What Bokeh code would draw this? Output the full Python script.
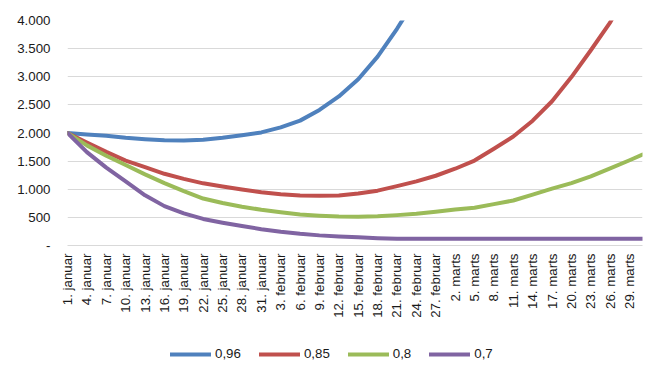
from bokeh.plotting import figure
from bokeh.models import Range1d, FixedTicker, Legend, LegendItem
from bokeh.layouts import column
from bokeh.embed import file_html
from bokeh.resources import INLINE
import math

# Category tick labels (every 3rd day, Jan 1 .. Mar 29)
tick_days = list(range(0, 90, 3))
tick_labels = [
    "1. januar", "4. januar", "7. januar", "10. januar", "13. januar", "16. januar",
    "19. januar", "22. januar", "25. januar", "28. januar", "31. januar",
    "3. februar", "6. februar", "9. februar", "12. februar", "15. februar",
    "18. februar", "21. februar", "24. februar", "27. februar",
    "2. marts", "5. marts", "8. marts", "11. marts", "14. marts", "17. marts",
    "20. marts", "23. marts", "26. marts", "29. marts",
]

# Day index (0 = 1. januar) of sampled points
days_full = list(range(0, 90, 3)) + [89]

# Series values
s096_days = list(range(0, 57, 3))
s096 = [2000, 1975, 1950, 1915, 1890, 1870, 1868, 1880, 1915, 1960,
        2010, 2100, 2220, 2410, 2650, 2956, 3357, 3853, 4400]

s085_days = list(range(0, 90, 3))
s085 = [2000, 1830, 1665, 1510, 1395, 1275, 1185, 1105, 1050, 995,
        945, 910, 889, 885, 889, 925, 975, 1055, 1140, 1240,
        1365, 1510, 1720, 1938, 2219, 2565, 2994, 3471, 3966, 4600]

s08_days = days_full
s08 = [2000, 1780, 1595, 1430, 1265, 1110, 967, 835, 755, 690,
       635, 590, 551, 530, 516, 512, 518, 540, 565, 600,
       640, 670, 735, 800, 905, 1010, 1110, 1230, 1370, 1515, 1615]

s07_days = days_full
s07 = [2000, 1660, 1385, 1140, 893, 700, 572, 472, 405, 345,
       290, 245, 208, 180, 162, 145, 130, 120, 120, 120,
       120, 120, 120, 120, 120, 120, 120, 120, 120, 120, 120]

series_names = ["0,96", "0,85", "0,8", "0,7"]
series_colors = ["#4F81BD", "#C0504D", "#9BBB59", "#8064A2"]

y_ticks = [0, 500, 1000, 1500, 2000, 2500, 3000, 3500, 4000]
y_labels = ["-", "500", "1.000", "1.500", "2.000", "2.500", "3.000", "3.500", "4.000"]

all_days = [s096_days, s085_days, s08_days, s07_days]
all_vals = [s096, s085, s08, s07]

FONT = "Liberation Sans"
FS = "13.3px"
TXT = "#1a1a1a"

p = figure(width=663, height=332, output_backend="svg", toolbar_location=None,
           x_range=Range1d(0, 89), y_range=Range1d(0, 4000),
           min_border_left=67, min_border_right=21, min_border_top=20,
           min_border_bottom=87)
p.outline_line_color = None
p.background_fill_color = "white"
p.border_fill_color = "white"

for xs, ys, c in zip(all_days, all_vals, series_colors):
    p.line(xs, ys, line_color=c, line_width=4, line_join="round", line_cap="round")

# axes
p.xaxis.ticker = FixedTicker(ticks=tick_days)
p.xaxis.major_label_overrides = {d: l for d, l in zip(tick_days, tick_labels)}
p.xaxis.major_label_orientation = math.pi / 2
p.xaxis.major_tick_out = 0
p.xaxis.major_tick_in = 0
p.xaxis.minor_tick_line_color = None
p.xaxis.minor_tick_out = 0
p.xaxis.axis_line_color = "#D9D9D9"
p.xaxis.axis_line_width = 1
p.xaxis.major_label_standoff = 8
p.xaxis.major_label_text_font = FONT
p.xaxis.major_label_text_font_size = FS
p.xaxis.major_label_text_color = TXT

p.yaxis.ticker = FixedTicker(ticks=y_ticks)
p.yaxis.major_label_overrides = {t: l for t, l in zip(y_ticks, y_labels)}
p.yaxis.axis_line_color = None
p.yaxis.major_tick_line_color = None
p.yaxis.major_tick_out = 0
p.yaxis.major_tick_in = 0
p.yaxis.minor_tick_line_color = None
p.yaxis.minor_tick_out = 0
p.yaxis.major_label_standoff = 17
p.yaxis.major_label_text_font = FONT
p.yaxis.major_label_text_font_size = FS
p.yaxis.major_label_text_color = TXT

p.xgrid.grid_line_color = None
p.ygrid.grid_line_color = "#D9D9D9"
p.ygrid.grid_line_width = 1

# Legend strip below the chart (series drawn out of view there; only legend shows)
p2 = figure(width=663, height=45, output_backend="svg", toolbar_location=None,
            x_range=Range1d(1000, 1663), y_range=Range1d(0, 45),
            min_border=0, min_border_left=0, min_border_right=0,
            min_border_top=0, min_border_bottom=0)
p2.outline_line_color = None
p2.axis.visible = False
p2.grid.grid_line_color = None
legend_renderers = []
for xs, ys, c in zip(all_days, all_vals, series_colors):
    legend_renderers.append(p2.line(xs, ys, line_color=c, line_width=4, line_cap="round"))

legend = Legend(items=[LegendItem(label=n, renderers=[r]) for n, r in zip(series_names, legend_renderers)],
                orientation="horizontal", location=(103, 16),
                glyph_width=41, glyph_height=14, label_standoff=4, spacing=18,
                label_width=10,
                padding=0, margin=0, border_line_color=None, background_fill_alpha=0,
                label_text_font=FONT, label_text_font_size=FS, label_text_color=TXT)
p2.add_layout(legend, "center")

layout = column(p, p2, spacing=0)
open("out.html", "w").write(file_html(layout, INLINE))
